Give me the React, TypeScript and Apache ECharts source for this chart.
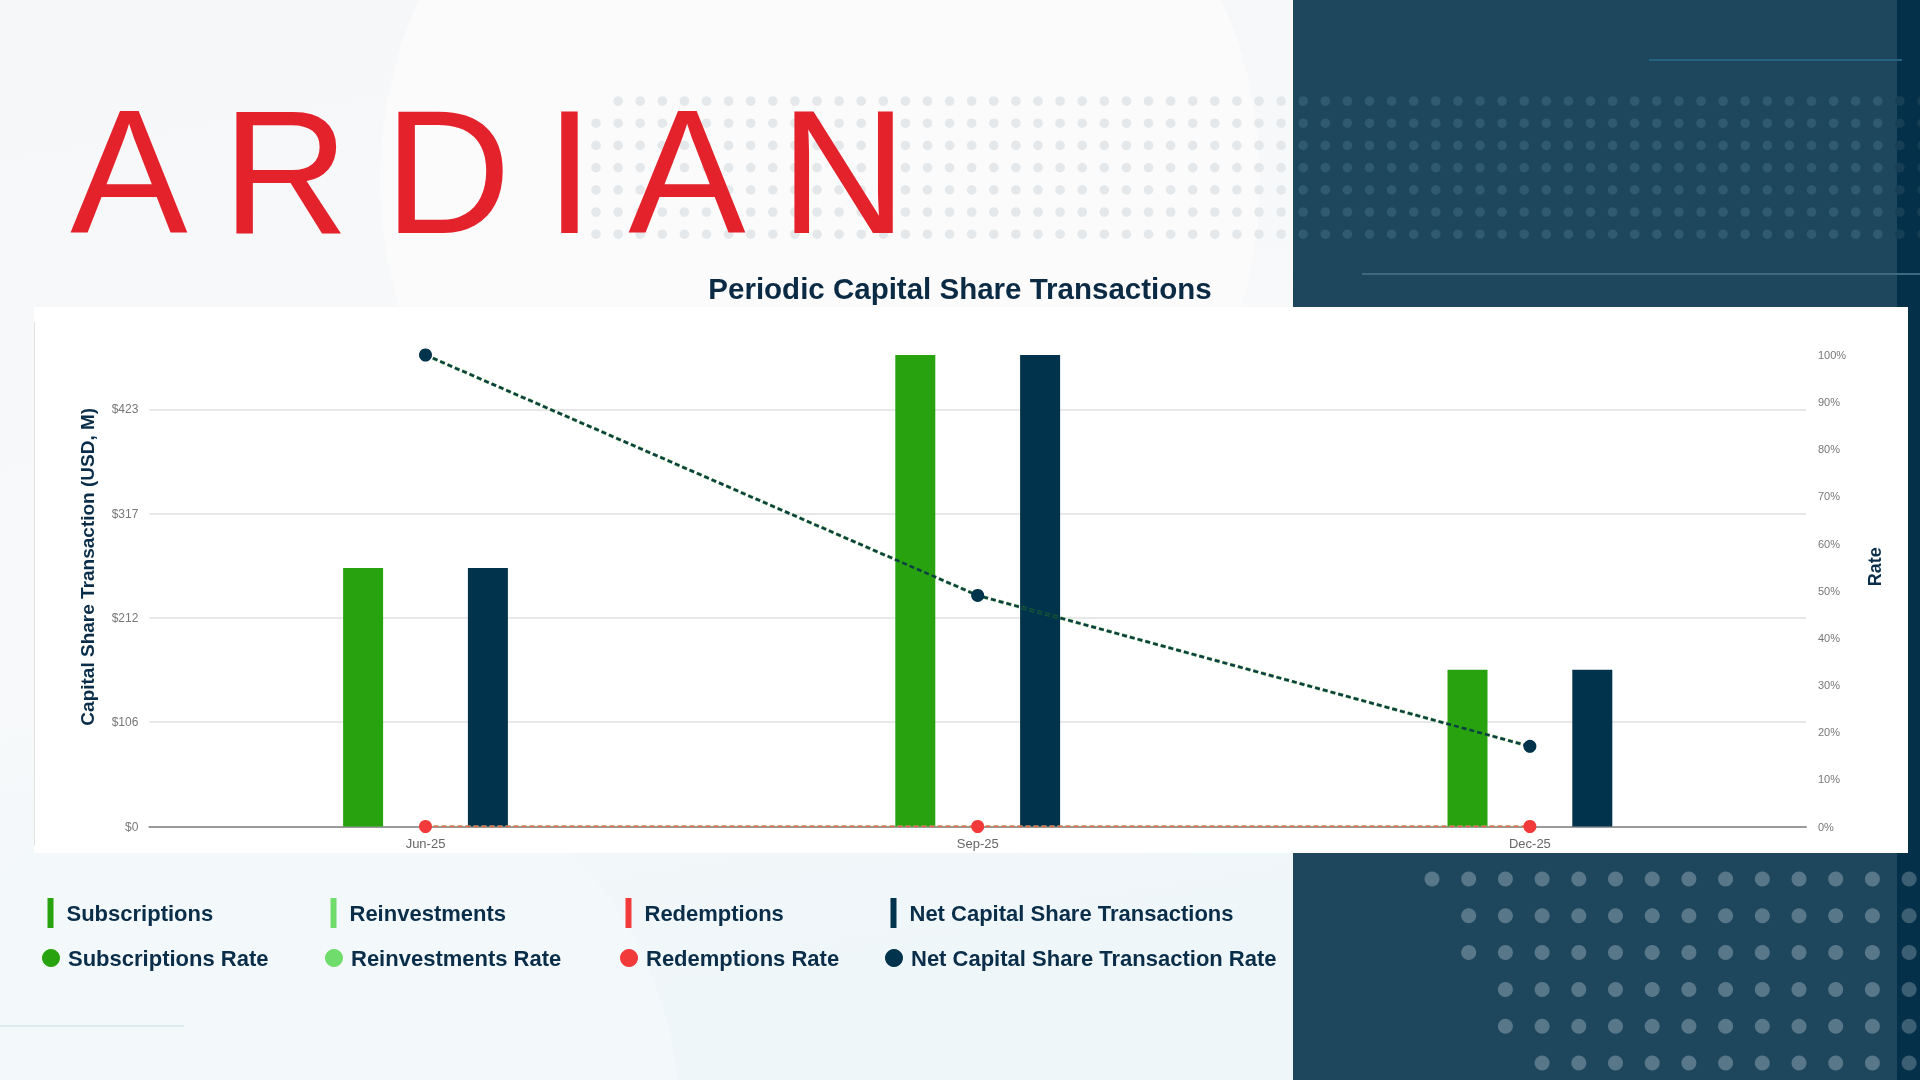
import React, { useEffect, useRef } from "react";
import * as echarts from "echarts";

// ---- data ----
const categories = ["Jun-25", "Sep-25", "Dec-25"];
const subscriptions = [262, 478, 159];
const reinvestments = [0, 0, 0];
const redemptions = [0, 0, 0];
const netTransactions = [262, 478, 159];
const subscriptionsRate = [100, 49, 17];
const reinvestmentsRate = [0, 0, 0];
const redemptionsRate = [0, 0, 0];
const netRate = [100, 49, 17];
const leftAxisMax = 478;
const leftAxisStep = 105.75;
const rateAxisMax = 100;
const rateAxisStep = 10;

const barNames = ["Subscriptions", "Reinvestments", "Redemptions", "Net Capital Share Transactions"];
const rateNames = ["Subscriptions Rate", "Reinvestments Rate", "Redemptions Rate", "Net Capital Share Transaction Rate"];

const GREEN = "#28a30f";
const LIGHT_GREEN = "#6fdc6b";
const RED = "#f23a3a";
const NAVY = "#02334d";
const TEXT_NAVY = "#0a2e49";

function buildDecorations() {
  const els: any[] = [];
  // page background
  els.push({
    type: "rect",
    z: -20,
    shape: { x: 0, y: 0, width: 1920, height: 1080 },
    style: {
      fill: new echarts.graphic.LinearGradient(0, 0, 0.3, 1, [
        { offset: 0, color: "#f6f7f8" },
        { offset: 0.6, color: "#f7f9fa" },
        { offset: 1, color: "#eef6f9" },
      ]),
    },
  });
  // faint large shapes
  els.push({ type: "circle", z: -19, shape: { cx: 820, cy: 180, r: 440 }, style: { fill: "#fbfbfb" } });
  els.push({ type: "circle", z: -19, shape: { cx: 300, cy: 1120, r: 380 }, style: { fill: "#f3f9fb" } });
  // navy panel
  els.push({ type: "rect", z: -18, shape: { x: 1293, y: 0, width: 627, height: 1080 }, style: { fill: "#1e475e" } });
  els.push({ type: "rect", z: -18, shape: { x: 1897, y: 0, width: 23, height: 1080 }, style: { fill: "#04304a" } });
  // thin lines
  els.push({ type: "line", z: -17, shape: { x1: 1649, y1: 60, x2: 1902, y2: 60 }, style: { stroke: "#246280", lineWidth: 2 } });
  els.push({ type: "line", z: -17, shape: { x1: 1362, y1: 274, x2: 1920, y2: 274 }, style: { stroke: "#3d6880", lineWidth: 2 } });
  els.push({ type: "line", z: -17, shape: { x1: 0, y1: 1026, x2: 184, y2: 1026 }, style: { stroke: "#d3e6ed", lineWidth: 1.5 } });
  // top dots
  for (let r = 0; r < 7; r++) {
    const cy = 101 + 22.2 * r;
    for (let c = r < 1 ? 1 : 0; ; c++) {
      const cx = 596 + 22.1 * c;
      if (cx > 1925) break;
      const fill = cx < 1293 ? "#e4e8eb" : cx < 1897 ? "#2f5a70" : "#163f56";
      els.push({ type: "circle", z: -16, shape: { cx, cy, r: 4.8 }, style: { fill } });
    }
  }
  // bottom dots
  const rowStarts = [0, 1, 1, 2, 2, 3];
  for (let r = 0; r < 6; r++) {
    const cy = 879 + 36.8 * r;
    for (let c = rowStarts[r]; ; c++) {
      const cx = 1432 + 36.7 * c;
      if (cx > 1930) break;
      const fill = cx < 1897 ? "#587789" : "#3d5f73";
      els.push({ type: "circle", z: -16, shape: { cx, cy, r: 7.5 }, style: { fill } });
    }
  }
  // chart card
  els.push({ type: "rect", z: -10, shape: { x: 34, y: 307, width: 1874, height: 546 }, style: { fill: "#ffffff" } });
  els.push({ type: "line", z: -9, shape: { x1: 34.5, y1: 322, x2: 34.5, y2: 845 }, style: { stroke: "#e2e2e2", lineWidth: 1 } });
  // logo
  const letters = ["A", "R", "D", "I", "A", "N"];
  const centers = [129, 285.5, 447.5, 569.5, 687, 843.5];
  letters.forEach((t, i) => {
    els.push({
      type: "text",
      z: 5,
      style: {
        text: t,
        x: centers[i],
        y: 172,
        fill: "#e4222b",
        fontSize: 176,
        fontFamily: "Liberation Sans",
        fontWeight: "normal",
        align: "center",
        verticalAlign: "middle",
      },
    });
  });
  return els;
}

export default function App() {
  const ref = useRef<HTMLDivElement>(null);
  useEffect(() => {
    if (!ref.current) return;
    const chart = echarts.init(ref.current, undefined, { renderer: "svg" });
    const font = "Liberation Sans";
    const legendLefts = [38, 321, 616, 881];
    const barColors = [GREEN, LIGHT_GREEN, RED, NAVY];
    const legends: any[] = [];
    barNames.forEach((n, i) => {
      legends.push({
        data: [n],
        left: legendLefts[i] + 4.5,
        top: 893,
        icon: "rect",
        itemWidth: 6,
        itemHeight: 30,
        textStyle: {
          fontSize: 22,
          fontWeight: "bold",
          color: TEXT_NAVY,
          fontFamily: font,
          padding: [0, 0, 0, 8],
        },
      });
    });
    rateNames.forEach((n, i) => {
      legends.push({
        data: [n],
        left: legendLefts[i] - 1,
        top: 942,
        icon: "circle",
        itemWidth: 24,
        itemHeight: 18,
        textStyle: { fontSize: 22, fontWeight: "bold", color: TEXT_NAVY, fontFamily: font },
      });
    });

    const barSeries = [subscriptions, reinvestments, redemptions, netTransactions].map((d, i) => ({
      name: barNames[i],
      type: "bar",
      data: d,
      barWidth: 40,
      barGap: "4%",
      itemStyle: { color: barColors[i] },
    }));

    const lineDefs = [
      { data: subscriptionsRate, color: GREEN, lineColor: GREEN, width: 3.5, size: 12, opacity: 0.55 },
      { data: reinvestmentsRate, color: LIGHT_GREEN, lineColor: LIGHT_GREEN, width: 2, size: 12, opacity: 1 },
      { data: redemptionsRate, color: RED, lineColor: "#f0605a", width: 2, size: 13, opacity: 1 },
      { data: netRate, color: NAVY, lineColor: "#0d3f42", width: 2.5, size: 13, opacity: 1 },
    ];
    const lineSeries = lineDefs.map((d, i) => ({
      name: rateNames[i],
      type: "line",
      yAxisIndex: 1,
      data: d.data,
      symbol: "circle",
      symbolSize: d.size,
      itemStyle: { color: d.color },
      lineStyle: { color: d.lineColor, width: d.width, type: [5, 3], opacity: d.opacity },
      z: 3 + i,
    }));

    chart.setOption({
      animation: false,
      backgroundColor: "transparent",
      graphic: buildDecorations(),
      title: {
        text: "Periodic Capital Share Transactions",
        left: "center",
        top: 268.5,
        textStyle: { fontSize: 29.5, fontWeight: "bold", color: "#0b2a44", fontFamily: font },
      },
      legend: legends,
      grid: { left: 149.4, right: 114, top: 355, bottom: 253.5, containLabel: false },
      xAxis: {
        type: "category",
        data: categories,
        axisLine: { lineStyle: { color: "#9a9a9a", width: 2 } },
        axisTick: { show: false },
        axisLabel: { color: "#666", fontSize: 13, margin: 10, fontFamily: font },
      },
      yAxis: [
        {
          type: "value",
          min: 0,
          max: leftAxisMax,
          interval: leftAxisStep,
          name: "Capital Share Transaction (USD, M)",
          nameLocation: "middle",
          nameRotate: 90,
          nameGap: 52,
          nameTextStyle: { fontSize: 19, fontWeight: "bold", color: TEXT_NAVY, fontFamily: font, padding: [0, 0, 0, 48] },
          axisLine: { show: false },
          axisTick: { show: false },
          axisLabel: {
            color: "#777",
            fontSize: 12,
            margin: 11,
            fontFamily: font,
            showMaxLabel: false,
            formatter: (v: number) => "$" + Math.round(v),
          },
          splitLine: { show: true, showMaxLine: false, lineStyle: { color: "#e8e8e8", width: 2 } },
        },
        {
          type: "value",
          position: "right",
          min: 0,
          max: rateAxisMax,
          interval: rateAxisStep,
          name: "Rate",
          nameLocation: "middle",
          nameRotate: 90,
          nameGap: 60,
          nameTextStyle: { fontSize: 18, fontWeight: "bold", color: TEXT_NAVY, fontFamily: font, padding: [0, 0, 0, 48] },
          axisLine: { show: false },
          axisTick: { show: false },
          axisLabel: { color: "#777", fontSize: 11, margin: 12, fontFamily: font, formatter: "{value}%" },
          splitLine: { show: false },
        },
      ],
      series: [...barSeries, ...lineSeries],
    });
    return () => chart.dispose();
  }, []);
  return (
    <div
      ref={ref}
      style={{ position: "fixed", left: 0, top: 0, width: 1920, height: 1080 }}
    />
  );
}
